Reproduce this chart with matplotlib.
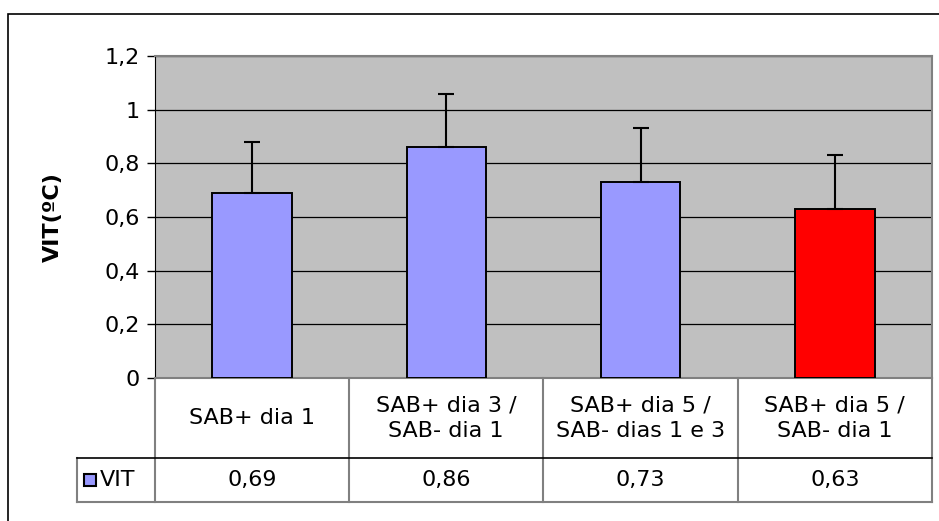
import matplotlib
matplotlib.use('Agg')
import matplotlib.pyplot as plt
from matplotlib.patches import Rectangle

plt.rcParams['font.family'] = ['DejaVu Sans']

categories = ['SAB+ dia 1', 'SAB+ dia 3 /\nSAB- dia 1',
              'SAB+ dia 5 /\nSAB- dias 1 e 3', 'SAB+ dia 5 /\nSAB- dia 1']
values = [0.69, 0.86, 0.73, 0.63]
errors = [0.19, 0.20, 0.20, 0.20]
value_labels = ['0,69', '0,86', '0,73', '0,63']
bar_colors = ['#9999FF', '#9999FF', '#9999FF', '#FF0000']
series_name = 'VIT'
y_ticks = [0, 0.2, 0.4, 0.6, 0.8, 1.0, 1.2]
y_tick_labels = ['0', '0,2', '0,4', '0,6', '0,8', '1', '1,2']

W, H = 939, 521
FS = 16
fig = plt.figure(figsize=(W / 100, H / 100), dpi=100)

# outer chart border (right/bottom edges fall outside the picture)
fig.patches.append(Rectangle((8 / W, -0.02), 1.1, (H - 14) / H + 0.02,
                             transform=fig.transFigure, fill=False,
                             edgecolor='black', linewidth=1.2))

ax = fig.add_axes([155 / W, (H - 378) / H, (932 - 155) / W, (378 - 56) / H])
ax.set_facecolor('#C0C0C0')
x = list(range(len(values)))
ax.bar(x, values, width=0.41, color=bar_colors, edgecolor='black',
       linewidth=1.4, zorder=3)
ax.errorbar(x, values, yerr=[[0] * len(errors), errors], fmt='none',
            ecolor='black', elinewidth=1.5, capsize=5.5, capthick=1.5, zorder=4)
ax.set_xlim(-0.5, len(values) - 0.5)
ax.set_ylim(0, 1.2)
ax.set_yticks(y_ticks)
ax.set_yticklabels(y_tick_labels, fontsize=FS)
ax.set_xticks([])
ax.yaxis.grid(True, color='black', linewidth=0.9)
ax.set_axisbelow(True)
ax.tick_params(axis='y', direction='out', length=6, width=1, pad=5)
for side in ['top', 'right', 'bottom']:
    ax.spines[side].set_color('#808080')
    ax.spines[side].set_linewidth(1.5)
ax.spines['left'].set_color('black')
ax.set_ylabel('VIT(ºC)', fontsize=FS, fontweight='bold', labelpad=30)

# data table under the plot
tab = fig.add_axes([77 / W, (H - 502) / H, (932 - 77) / W, (502 - 378) / H])
tab.set_xlim(-0.9, len(values) - 0.5)
tab.set_ylim(0, 1)
tab.axis('off')
split = 44 / 124
grey = '#808080'
for i in range(len(values) + 1):
    tab.plot([i - 0.5, i - 0.5], [0, 1], color=grey, linewidth=1.5,
             clip_on=False)
tab.plot([-0.9, -0.9], [0, split], color=grey, linewidth=1.5, clip_on=False)
tab.plot([-0.9, len(values) - 0.5], [split, split], color='black',
         linewidth=1.2, clip_on=False)
tab.plot([-0.9, len(values) - 0.5], [0, 0], color=grey, linewidth=1.5,
         clip_on=False)
for i, (cat, lab) in enumerate(zip(categories, value_labels)):
    tab.text(i, (1 + split) / 2, cat, ha='center', va='center', fontsize=FS,
             linespacing=1.35)
    tab.text(i, split / 2, lab, ha='center', va='center', fontsize=FS)
tab.add_patch(Rectangle((-0.866, split / 2 - 0.052), 0.064, 0.104,
                        facecolor=bar_colors[0], edgecolor='black',
                        linewidth=1.5, clip_on=False))
tab.text(-0.785, split / 2, series_name, ha='left', va='center', fontsize=FS)

plt.savefig('out.png', dpi=100)
